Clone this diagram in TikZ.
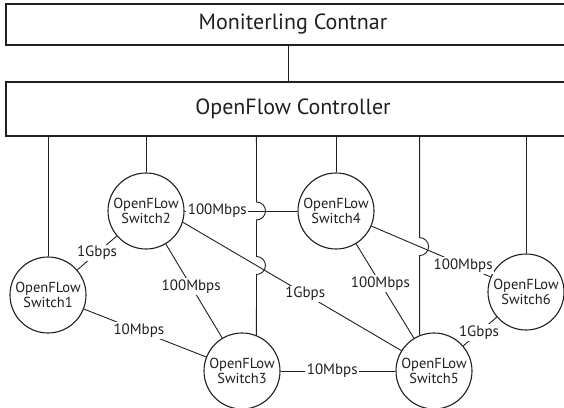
\documentclass[tikz,border=0pt]{standalone}
\usepackage{fontspec}
\setmainfont{PT Sans}
\usetikzlibrary{calc}
\definecolor{dLine}{RGB}{35,31,32}
\tikzset{
  bar/.style={rectangle, draw=dLine, line width=1.2pt, fill=white,
              minimum width=574pt, inner sep=0pt, text=dLine,
              font=\fontsize{22}{24}\selectfont},
  sw/.style={circle, draw=dLine, line width=1.1pt, fill=white,
             minimum size=76pt, inner sep=0pt, align=center, text=dLine,
             font=\fontsize{14.5}{15.5}\selectfont},
  link/.style={draw=dLine, line width=0.9pt},
  lbl/.style={fill=white, inner sep=1.5pt, text=dLine,
              font=\fontsize{15}{16}\selectfont},
}

\begin{document}
\begin{tikzpicture}[x=1pt,y=1pt]
  \useasboundingbox (0,0) rectangle (564,407);
  \clip (0,0) rectangle (564,407);

  % controllers
  \node[bar, minimum height=41pt] (mon) at (293,382.5) {Moniterling Contnar};
  \node[bar, minimum height=54pt] (ctrl) at (293,298) {OpenFlow Controller};
  \coordinate (mx) at (288,0);
  \draw[link] (mon.south -| mx) -- (ctrl.north -| mx);

  % switches
  \node[sw] (s1) at (48,112)  {OpenFLow\\Switch1};
  \node[sw] (s2) at (146,196) {OpenFLow\\Switch2};
  \node[sw] (s3) at (242,36)  {OpenFLow\\Switch3};
  \node[sw] (s4) at (336,196) {OpenFLow\\Switch4};
  \node[sw] (s5) at (434,36)  {OpenFLow\\Switch5};
  \node[sw] (s6) at (526,115) {OpenFLow\\Switch6};

  % straight control lines
  \foreach \s in {s1,s2,s4,s6}
    \draw[link] (\s) -- (\s |- ctrl.south);

  % links between switches
  \coordinate (a25) at (s2.-17);
  \coordinate (b25) at (s5.148);
  \draw[link] (s1) -- node[lbl,pos=0.5]{1Gbps} (s2);
  \draw[link] (s2) -- node[lbl,pos=0.29]{100Mbps} (s4);
  \draw[link] (s2) -- node[lbl,pos=0.45]{100Mbps} (s3);
  \draw[link] (a25) -- node[lbl,pos=0.56]{1Gbps} (b25);
  \draw[link] (s1) -- node[lbl,pos=0.45]{10Mbps} (s3);
  \draw[link] (s3) -- node[lbl,pos=0.45]{10Mbps} (s5);
  \draw[link] (s4) -- node[lbl,pos=0.42]{100Mbps} (s5);
  \draw[link] (s4) -- node[lbl,pos=0.77]{100Mbps} (s6);
  \draw[link] (s5) -- node[lbl,pos=0.47]{1Gbps} (s6);

  % control lines with hops
  \coordinate (b3) at (s3.68);
  \coordinate (t3) at (b3 |- ctrl.south);
  \coordinate (h1) at (intersection of s2--s4 and b3--t3);
  \coordinate (h2) at (intersection of a25--b25 and b3--t3);
  \draw[link] (t3) -- ($(h1)+(0,9)$) arc[start angle=90,end angle=-90,radius=9]
    -- ($(h2)+(0,9)$) arc[start angle=90,end angle=-90,radius=9] -- (b3);
  \coordinate (b5) at (s5.112);
  \coordinate (t5) at (b5 |- ctrl.south);
  \coordinate (h3) at (intersection of s4--s6 and b5--t5);
  \draw[link] (t5) -- ($(h3)+(0,9)$) arc[start angle=90,end angle=-90,radius=9]
    -- (b5);
\end{tikzpicture}
\end{document}
